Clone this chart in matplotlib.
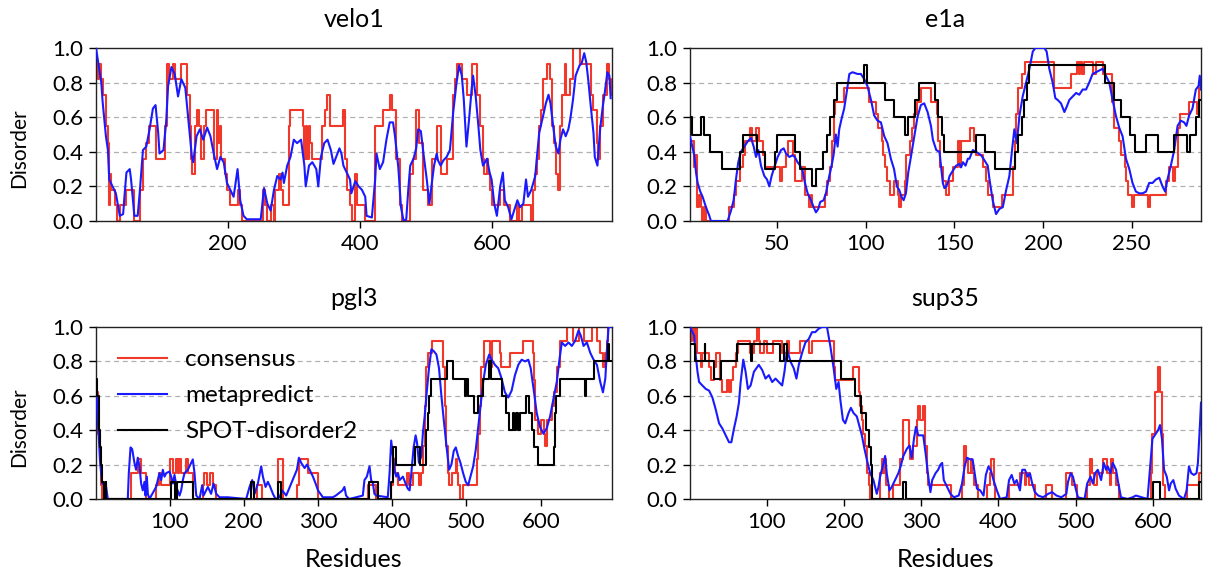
import matplotlib
matplotlib.use("Agg")
import matplotlib.pyplot as plt

plt.rcParams['font.family'] = ['Lato', 'DejaVu Sans']

# ---------------- data (residue, disorder) ----------------
velo1_consensus = [(1,0.91),(4,0.82),(6,0.91),(8,0.82),(11,0.73),(16,0.55),(19,0.45),(20,0.18),(21,0.09),(22,0.27),(24,0.18),(30,0.09),(32,0.0),(37,0.09),(47,0.18),(59,0.0),(67,0.18),(72,0.36),(77,0.45),(81,0.55),(92,0.36),(105,0.55),(109,0.91),(111,0.82),(118,0.91),(120,0.82),(129,0.91),(139,0.73),(143,0.55),(145,0.36),(146,0.27),(150,0.36),(151,0.55),(154,0.64),(156,0.55),(160,0.36),(164,0.55),(168,0.64),(180,0.36),(184,0.64),(186,0.45),(188,0.55),(190,0.36),(196,0.27),(199,0.18),(204,0.09),(215,0.18),(219,0.09),(222,0.0),(253,0.18),(257,0.09),(260,0.0),(265,0.09),(270,0.0),(272,0.18),(278,0.27),(281,0.18),(283,0.09),(293,0.55),(295,0.64),(314,0.55),(315,0.36),(318,0.55),(320,0.36),(323,0.55),(325,0.45),(328,0.36),(342,0.55),(347,0.64),(350,0.73),(354,0.55),(375,0.64),(377,0.36),(380,0.18),(385,0.09),(388,0.0),(392,0.27),(396,0.09),(407,0.0),(423,0.55),(435,0.64),(446,0.73),(448,0.64),(455,0.36),(460,0.09),(463,0.0),(475,0.27),(480,0.36),(485,0.64),(490,0.45),(496,0.18),(503,0.09),(509,0.36),(517,0.55),(522,0.27),(531,0.36),(541,0.73),(544,0.82),(547,0.91),(554,0.82),(562,0.73),(570,0.91),(577,0.73),(582,0.55),(586,0.36),(587,0.27),(592,0.36),(594,0.27),(597,0.18),(599,0.09),(612,0.18),(618,0.09),(627,0.0),(637,0.09),(640,0.0),(645,0.09),(659,0.0),(662,0.18),(665,0.27),(667,0.36),(671,0.55),(674,0.64),(677,0.82),(682,0.91),(688,0.82),(691,0.55),(694,0.45),(697,0.27),(700,0.18),(702,0.55),(705,0.73),(710,0.91),(712,0.73),(718,0.82),(722,1.0),(733,0.91),(750,0.73),(753,0.64),(758,0.45),(760,0.36),(763,0.55),(768,0.73),(773,0.91),(776,0.82),(779,0.73),(781,0.73)]

velo1_metapredict = [(1,1.0),(9,0.80),(11,0.69),(16,0.49),(19,0.41),(21,0.24),(26,0.20),(31,0.16),(37,0.03),(42,0.04),(44,0.14),(47,0.28),(52,0.30),(54,0.24),(59,0.03),(64,0.03),(67,0.16),(72,0.41),(77,0.43),(82,0.53),(87,0.65),(91,0.67),(95,0.51),(97,0.39),(103,0.41),(107,0.57),(110,0.78),(115,0.89),(120,0.85),(125,0.72),(130,0.82),(136,0.77),(141,0.57),(146,0.37),(148,0.34),(153,0.49),(158,0.53),(163,0.47),(169,0.54),(174,0.49),(179,0.39),(184,0.30),(189,0.37),(194,0.34),(199,0.22),(204,0.18),(209,0.14),(215,0.30),(219,0.12),(224,0.03),(229,0.01),(250,0.01),(255,0.19),(260,0.10),(265,0.06),(270,0.18),(275,0.26),(280,0.24),(283,0.28),(285,0.22),(290,0.32),(295,0.37),(300,0.47),(305,0.45),(311,0.47),(316,0.32),(318,0.20),(323,0.32),(328,0.34),(334,0.30),(337,0.20),(341,0.37),(346,0.45),(351,0.47),(356,0.41),(360,0.33),(366,0.39),(369,0.42),(372,0.39),(375,0.32),(380,0.28),(385,0.24),(387,0.16),(393,0.23),(398,0.20),(403,0.18),(408,0.14),(410,0.03),(418,0.02),(423,0.24),(425,0.39),(430,0.30),(435,0.34),(440,0.47),(445,0.57),(450,0.57),(453,0.49),(458,0.31),(462,0.08),(466,0.0),(470,0.01),(473,0.18),(476,0.32),(481,0.36),(485,0.42),(488,0.53),(492,0.52),(496,0.39),(501,0.24),(505,0.10),(508,0.20),(512,0.32),(516,0.39),(518,0.35),(522,0.32),(526,0.35),(531,0.37),(536,0.41),(541,0.63),(546,0.80),(550,0.90),(554,0.84),(557,0.70),(561,0.43),(565,0.59),(569,0.77),(571,0.84),(575,0.72),(579,0.55),(582,0.41),(586,0.32),(592,0.36),(596,0.28),(599,0.24),(603,0.10),(607,0.03),(612,0.20),(616,0.28),(619,0.12),(624,0.08),(629,0.01),(633,0.06),(638,0.12),(642,0.08),(647,0.10),(651,0.24),(654,0.14),(659,0.18),(665,0.26),(667,0.35),(671,0.51),(677,0.61),(681,0.68),(685,0.73),(688,0.68),(692,0.55),(696,0.43),(700,0.39),(703,0.47),(707,0.53),(711,0.49),(715,0.53),(718,0.59),(722,0.70),(726,0.84),(732,0.90),(735,0.91),(739,0.97),(742,0.92),(745,0.82),(749,0.66),(753,0.51),(755,0.37),(759,0.32),(763,0.53),(767,0.66),(770,0.74),(774,0.86),(777,0.84),(779,0.71)]

e1a_consensus = [(1,0.46),(3,0.31),(4,0.38),(5,0.08),(6,0.15),(7,0.08),(8,0.0),(9,0.08),(10,0.0),(23,0.08),(26,0.15),(27,0.23),(29,0.31),(31,0.38),(32,0.46),(35,0.54),(36,0.46),(38,0.54),(40,0.46),(42,0.38),(43,0.31),(52,0.23),(53,0.31),(55,0.38),(56,0.46),(59,0.38),(60,0.23),(64,0.31),(66,0.15),(68,0.08),(69,0.15),(70,0.08),(77,0.15),(78,0.23),(80,0.31),(81,0.46),(82,0.62),(83,0.69),(88,0.77),(102,0.69),(106,0.62),(107,0.54),(109,0.46),(110,0.38),(111,0.31),(112,0.23),(114,0.15),(116,0.23),(118,0.15),(119,0.08),(120,0.15),(122,0.23),(123,0.38),(125,0.46),(126,0.54),(127,0.62),(129,0.69),(131,0.77),(137,0.69),(140,0.62),(141,0.46),(142,0.31),(143.5,0.23),(145,0.15),(147,0.23),(149,0.31),(152,0.46),(153,0.31),(154,0.46),(159,0.54),(161,0.46),(162,0.38),(166,0.31),(168,0.23),(169,0.15),(172,0.08),(177,0.15),(183,0.31),(184,0.46),(185,0.62),(186,0.77),(188,0.85),(190,0.92),(206,0.77),(216,0.85),(219,0.92),(220,0.85),(221,0.92),(222,0.85),(223,0.92),(228,0.85),(230,0.92),(234,0.85),(239,0.69),(240,0.54),(243,0.46),(244,0.38),(246,0.31),(247,0.23),(248,0.15),(250,0.08),(251,0.15),(259,0.08),(260,0.15),(269,0.23),(271,0.31),(273,0.23),(274.5,0.31),(276,0.54),(277,0.62),(282,0.69),(287,0.62),(288,0.77),(289,0.77)]

e1a_metapredict = [(1,0.49),(3.4,0.38),(4.4,0.28),(5.3,0.22),(6.8,0.17),(8.1,0.14),(10,0.08),(11.9,0.03),(12.8,0.0),(22.2,0.0),(24.1,0.06),(25.6,0.12),(26.9,0.24),(28.2,0.34),(29.7,0.40),(31.6,0.43),(33.5,0.46),(35.4,0.48),(36.9,0.43),(38.2,0.37),(39.5,0.41),(41,0.32),(42.9,0.26),(44.4,0.24),(45.7,0.20),(47,0.26),(48.5,0.31),(50.4,0.37),(52.3,0.41),(53.8,0.42),(55.1,0.39),(57,0.37),(58.8,0.38),(60.1,0.37),(61.6,0.34),(63.1,0.32),(64.5,0.29),(65.8,0.22),(67.3,0.16),(69.2,0.12),(70.7,0.08),(72,0.05),(73.3,0.07),(74.4,0.11),(76.3,0.12),(77.6,0.16),(79.5,0.26),(80.8,0.32),(81.9,0.38),(83.2,0.50),(84.2,0.43),(85.1,0.53),(86.4,0.59),(87.9,0.65),(89.4,0.75),(90.8,0.85),(92.6,0.86),(95.4,0.85),(97.3,0.85),(99.2,0.82),(101,0.78),(103,0.70),(104.8,0.61),(106.7,0.58),(108.6,0.57),(110.5,0.49),(112.3,0.45),(114.2,0.36),(116,0.30),(117.6,0.20),(118.9,0.18),(120.2,0.14),(121.4,0.12),(122.7,0.16),(124,0.28),(125.5,0.37),(127.4,0.49),(129.2,0.60),(131.1,0.67),(133,0.68),(134.9,0.63),(136.8,0.55),(137.9,0.47),(139.8,0.41),(141.6,0.40),(143.5,0.22),(144.4,0.19),(145.4,0.20),(146.3,0.22),(147.3,0.26),(149.1,0.29),(151,0.32),(152.9,0.33),(153.8,0.31),(154.8,0.34),(156.3,0.32),(157.6,0.36),(158.5,0.36),(160.4,0.41),(162.3,0.40),(165.1,0.38),(167,0.35),(168.8,0.32),(169.8,0.24),(171.6,0.12),(173.5,0.04),(175.4,0.07),(177.3,0.08),(179.2,0.18),(181,0.26),(182.5,0.41),(183.8,0.53),(185.2,0.45),(186.7,0.61),(188.5,0.72),(190.4,0.80),(192.3,0.88),(194.2,0.98),(195.7,1.0),(200.7,1.0),(202,0.98),(203.5,0.88),(205.4,0.80),(206.9,0.71),(208.2,0.70),(210.1,0.68),(212,0.63),(213.3,0.66),(214.8,0.70),(216.7,0.72),(218.6,0.74),(220.4,0.73),(222.3,0.76),(224.2,0.76),(226,0.80),(227.9,0.85),(229.8,0.86),(231.7,0.87),(233.6,0.88),(235.4,0.84),(237.3,0.80),(239.2,0.70),(241,0.61),(242.9,0.54),(244.8,0.49),(246.7,0.36),(248.6,0.30),(250.4,0.22),(252.3,0.17),(254.2,0.16),(256.1,0.16),(258,0.17),(259.8,0.22),(261.7,0.22),(263.6,0.24),(265.5,0.25),(267.3,0.20),(268.8,0.17),(270.1,0.24),(272,0.32),(273.9,0.41),(275.8,0.55),(277.6,0.58),(279.5,0.57),(280.8,0.55),(282.3,0.61),(284.2,0.65),(286.1,0.76),(287.6,0.78),(288.3,0.84),(289,0.76)]

e1a_spot = [(1,0.6),(2,0.5),(7,0.6),(9,0.5),(12,0.4),(19,0.3),(29,0.4),(31,0.5),(39,0.4),(43,0.3),(49,0.4),(50,0.5),(60,0.4),(63,0.3),(70,0.2),(72,0.3),(76,0.4),(78,0.5),(80,0.6),(82,0.7),(84,0.8),(99,0.9),(101,0.8),(111,0.7),(116,0.6),(122,0.5),(124,0.6),(128,0.7),(130,0.8),(139,0.7),(141,0.6),(143,0.5),(144,0.4),(162,0.5),(167,0.4),(173,0.3),(184,0.4),(186,0.5),(188,0.6),(189,0.7),(191,0.8),(192,0.9),(235,0.8),(240,0.7),(244,0.6),(249,0.5),(252,0.4),(258,0.5),(265,0.4),(274,0.5),(281,0.4),(283,0.5),(286,0.6),(288,0.7),(289,0.7)]

pgl3_consensus = [(1,0.54),(2,0.62),(4,0.38),(6,0.23),(8,0.08),(9,0.0),(10,0.08),(12,0.0),(48,0.15),(57,0.23),(62,0.15),(68,0.0),(82,0.08),(86,0.15),(89,0.08),(100,0.23),(105,0.15),(109,0.23),(111,0.15),(113,0.23),(116,0.15),(122,0.23),(125,0.15),(132,0.0),(145,0.08),(147,0.15),(150,0.08),(154,0.15),(158,0.08),(163,0.0),(218,0.08),(225,0.0),(246,0.23),(253,0.0),(272,0.08),(275,0.23),(286,0.15),(293,0.15),(300,0.0),(367,0.08),(378,0.0),(399,0.08),(401,0.23),(404,0.15),(408,0.08),(420,0.15),(423,0.08),(428,0.15),(436,0.08),(439,0.15),(441,0.31),(444,0.54),(446,0.77),(448,0.85),(453,0.92),(468,0.77),(471,0.54),(473,0.31),(475,0.15),(477,0.08),(480,0.15),(486,0.23),(487,0.15),(489,0.08),(491,0.0),(495,0.08),(514,0.23),(516,0.38),(518,0.54),(520,0.77),(523,0.92),(532,0.77),(534,0.92),(545,0.85),(547,0.77),(559,0.85),(576,0.92),(589,0.85),(591,0.69),(592,0.46),(597,0.38),(601,0.46),(604,0.38),(606,0.31),(608,0.46),(615,0.54),(618,0.62),(622,0.77),(626,0.92),(636,1.0),(644,0.92),(651,1.0),(658,0.92),(669,1.0),(676,0.92),(680,0.85),(684,0.77),(686,0.85),(689,0.92),(691,1.0),(696,1.0)]

pgl3_metapredict = [(1,0.64),(2,0.58),(4.8,0.35),(6.6,0.21),(9.3,0.09),(12.5,0.09),(14.6,0.07),(16.9,0.0),(43.8,0.0),(45.2,0.15),(47.5,0.30),(49.7,0.29),(52.8,0.21),(55,0.17),(57.3,0.24),(59.6,0.19),(61.8,0.09),(64,0.05),(66.3,0.10),(67.7,0.02),(69.5,0.13),(70.8,0.03),(73,0.0),(82,0.07),(84.3,0.11),(86.5,0.15),(88.8,0.11),(91,0.17),(93.3,0.13),(95.5,0.15),(100,0.16),(102.2,0.13),(104.5,0.09),(106.7,0.14),(110,0.06),(113.5,0.02),(115.7,0.05),(118,0.11),(120.2,0.15),(124.7,0.17),(129.2,0.21),(131.4,0.23),(133.7,0.15),(136,0.02),(140.4,0.0),(144,0.08),(145.8,0.02),(149.4,0.05),(151.7,0.07),(156,0.03),(159.3,0.09),(163,0.03),(167.4,0.01),(178.6,0.01),(203.3,0.0),(207.8,0.07),(211.4,0.11),(214.6,0.03),(219,0.09),(223.5,0.19),(225.8,0.13),(229.4,0.07),(232.5,0.10),(235.7,0.07),(239.3,0.03),(242.9,0.0),(248.2,0.01),(251.8,0.05),(257.2,0.02),(271.6,0.17),(274.3,0.24),(277.4,0.21),(282,0.18),(285,0.20),(288.7,0.17),(293.2,0.13),(296.8,0.09),(300,0.05),(306.6,0.01),(320,0.01),(324,0.02),(333,0.05),(335.6,0.07),(337.8,0.02),(342,0.0),(360.4,0.02),(362.6,0.11),(365.8,0.13),(369.4,0.19),(371.6,0.11),(374,0.09),(376,0.03),(378.4,0.02),(394,0.01),(396.4,0.15),(398.6,0.34),(401,0.25),(403,0.17),(405.4,0.13),(407.7,0.15),(410,0.11),(414.4,0.13),(418,0.09),(421,0.06),(423.4,0.05),(425.7,0.15),(428.8,0.30),(431.5,0.37),(433.3,0.33),(436,0.21),(439.2,0.25),(441.4,0.39),(443.7,0.48),(446,0.60),(449.5,0.76),(452.7,0.87),(455.9,0.86),(459.5,0.84),(463,0.76),(466.2,0.60),(469.4,0.46),(473,0.31),(476.6,0.17),(479.7,0.20),(482.9,0.28),(485.6,0.30),(488.7,0.25),(491.9,0.21),(495.5,0.15),(499,0.10),(502.3,0.08),(505.4,0.13),(509,0.19),(512.6,0.29),(515.8,0.42),(518.9,0.54),(522.5,0.68),(526,0.78),(530.6,0.84),(533.8,0.81),(538.3,0.78),(542.8,0.76),(547.3,0.70),(551.8,0.62),(556.3,0.59),(560.8,0.63),(565.3,0.72),(569.8,0.78),(574.3,0.81),(578.8,0.80),(583.3,0.81),(586.5,0.76),(591,0.62),(594.6,0.50),(599,0.42),(603.6,0.38),(608,0.41),(612.6,0.48),(617,0.58),(621.6,0.68),(625.2,0.81),(628.4,0.91),(632.9,0.89),(637.4,0.91),(641.9,0.89),(646.4,0.92),(650.9,0.98),(654,0.95),(657.7,0.89),(662.2,0.91),(666.7,0.85),(671.2,0.81),(675.7,0.78),(680.2,0.68),(683.8,0.62),(687,0.70),(689.2,0.87),(691.4,1.0),(695,1.0)]

pgl3_spot = [(1,0.7),(3,0.6),(5,0.4),(7,0.3),(8,0.2),(9,0.1),(12,0.0),(14,0.1),(15,0.0),(102,0.1),(107,0.0),(110,0.1),(132,0.0),(210,0.1),(214,0.0),(246,0.1),(250,0.0),(369,0.1),(381,0.0),(399,0.1),(401,0.3),(405,0.2),(431,0.3),(437,0.2),(446,0.4),(448,0.5),(450,0.6),(452,0.7),(474,0.8),(482,0.7),(498,0.6),(500,0.7),(502,0.6),(510,0.5),(515,0.6),(522,0.7),(530,0.8),(533,0.7),(548,0.6),(553,0.5),(557,0.4),(562,0.5),(564,0.4),(567,0.5),(570,0.4),(572,0.5),(580,0.6),(584,0.5),(588,0.4),(591,0.3),(597,0.2),(618,0.3),(619,0.5),(621,0.6),(626,0.7),(660,0.6),(661,0.7),(672,0.8),(690,0.9),(692,0.8),(696,0.8)]

sup35_consensus = [(1,0.92),(4,1.0),(6,0.92),(8,1.0),(10,0.85),(15,0.77),(17,0.85),(26,0.77),(28,0.69),(32,0.77),(34,0.85),(40,0.69),(43,0.62),(49,0.69),(51,0.62),(54,0.69),(56,0.77),(60,0.85),(63,0.92),(79,0.85),(84,0.92),(88,1.0),(90,0.92),(92,0.85),(97,0.92),(101,0.85),(109,0.92),(120,0.85),(127,0.92),(129,0.85),(143,0.92),(155,0.85),(159,0.92),(187,0.77),(189,0.69),(212,0.77),(219,0.62),(221,0.54),(223,0.46),(225,0.38),(228,0.31),(230,0.15),(232,0.08),(234,0.0),(247,0.15),(249,0.23),(251,0.15),(253,0.23),(255,0.08),(258,0.0),(264,0.08),(272,0.23),(276,0.46),(284,0.31),(286,0.23),(290,0.31),(294,0.46),(296,0.54),(299,0.46),(302,0.54),(305,0.31),(307,0.15),(309,0.08),(339,0.0),(353,0.08),(355,0.15),(356,0.31),(358,0.23),(361,0.15),(364,0.23),(366,0.15),(368,0.08),(374,0.0),(385,0.08),(389,0.15),(391,0.23),(394,0.08),(396,0.0),(413,0.08),(428,0.15),(434,0.08),(436,0.15),(439,0.08),(447,0.0),(462,0.08),(469,0.0),(488,0.15),(495,0.08),(501,0.0),(515,0.08),(518,0.23),(521,0.15),(524,0.08),(528,0.15),(535,0.23),(540,0.15),(544,0.08),(546,0.23),(548,0.15),(552,0.08),(556,0.0),(597,0.15),(599,0.38),(603,0.62),(606,0.69),(607,0.77),(609,0.62),(611,0.38),(613,0.08),(616,0.0),(644,0.08),(659,0.15),(662,0.15)]

sup35_metapredict = [(1,1.0),(6.4,0.95),(8.5,0.83),(10.7,0.74),(12.8,0.68),(17,0.66),(21.4,0.64),(25.7,0.63),(30,0.59),(34.3,0.52),(38.6,0.44),(42.9,0.41),(47.2,0.37),(51.5,0.33),(54.5,0.33),(57.9,0.41),(61.3,0.48),(64.3,0.56),(66.5,0.68),(69.9,0.81),(72.9,0.74),(75.9,0.64),(79.4,0.66),(83.7,0.74),(90,0.78),(94.4,0.75),(98.7,0.70),(103,0.72),(107.3,0.68),(111.6,0.70),(115.9,0.68),(120.2,0.66),(123.2,0.74),(126.6,0.87),(130.9,0.80),(135.2,0.76),(138.7,0.70),(141.7,0.78),(146,0.85),(150.3,0.91),(154.6,0.93),(158.8,0.97),(163.1,0.97),(167.4,0.99),(171.7,1.0),(178.2,1.0),(182.5,0.89),(186.8,0.76),(190.2,0.64),(193.2,0.68),(195.4,0.58),(198.8,0.46),(201.8,0.44),(206.1,0.50),(209.1,0.53),(212.5,0.50),(216.8,0.48),(220.3,0.42),(223.3,0.37),(226.3,0.30),(229.7,0.23),(234,0.15),(238.3,0.11),(242.6,0.03),(244.8,0.07),(246.9,0.13),(250.3,0.19),(253.4,0.25),(255.5,0.15),(259,0.05),(262,0.07),(266.2,0.11),(270.5,0.15),(273.5,0.19),(277,0.25),(281.3,0.29),(284.7,0.31),(287.7,0.24),(290.7,0.35),(293.3,0.42),(296.3,0.37),(302.7,0.37),(306.2,0.25),(309.2,0.13),(312,0.04),(314.3,0.11),(318.6,0.15),(322,0.17),(325,0.20),(327.2,0.21),(329.3,0.11),(333.6,0.07),(337.9,0.03),(342.2,0.01),(348.6,0.02),(352.9,0.09),(356.3,0.19),(359.3,0.24),(363.6,0.23),(366.6,0.23),(369.2,0.15),(372.2,0.06),(376.4,0.05),(380.7,0.02),(383.7,0.14),(387.1,0.19),(390.6,0.16),(393.6,0.11),(397.9,0.05),(402.1,0.0),(410.7,0.01),(413.7,0.11),(417.1,0.14),(420.6,0.09),(423.6,0.11),(427.8,0.05),(430.8,0.17),(434.3,0.17),(437.7,0.13),(440.7,0.15),(443.7,0.09),(447.1,0.04),(451.4,0.02),(457.8,0.01),(464.3,0.03),(469.4,0.04),(475,0.02),(481.4,0.01),(487.8,0.03),(490,0.10),(493.4,0.15),(496.4,0.13),(499.4,0.07),(502.8,0.01),(511.4,0.0),(514.8,0.09),(519.1,0.13),(522.1,0.09),(525.1,0.15),(528.5,0.17),(532.8,0.11),(536.2,0.21),(539.2,0.17),(541.4,0.19),(544.8,0.15),(547.8,0.21),(552.1,0.17),(555.1,0.09),(558.5,0.01),(567,0.0),(573.5,0.01),(577.8,0.02),(592.8,0.0),(596.2,0.19),(599.2,0.35),(603.5,0.38),(606.5,0.40),(609,0.43),(611.5,0.35),(614.2,0.17),(617.7,0.13),(620.7,0.05),(622.8,0.09),(626.2,0.11),(629.2,0.06),(633.5,0.02),(640,0.0),(643.4,0.05),(646.4,0.19),(649.4,0.15),(652.8,0.14),(656.2,0.15),(658,0.21),(660.5,0.42),(662,0.56)]

sup35_spot = [(1,0.9),(7,0.8),(20,0.9),(21,0.8),(32,0.7),(41,0.8),(62,0.9),(80,0.8),(81,0.9),(117,0.8),(122,0.9),(127,0.8),(196,0.7),(214,0.6),(222,0.5),(229,0.4),(233,0.3),(235,0.2),(236,0.1),(237,0.0),(276,0.1),(281,0.0),(600,0.1),(609,0.0),(659,0.1),(662,0.1)]

titles = ["velo1", "e1a", "pgl3", "sup35"]
lengths = [781, 289, 696, 662]
xticks = [[200, 400, 600], [50, 100, 150, 200, 250],
          [100, 200, 300, 400, 500, 600], [100, 200, 300, 400, 500, 600]]
yticks = [0.0, 0.2, 0.4, 0.6, 0.8, 1.0]
series_names = ["consensus", "metapredict", "SPOT-disorder2"]

panels = [
    (velo1_consensus, velo1_metapredict, None),
    (e1a_consensus, e1a_metapredict, e1a_spot),
    (pgl3_consensus, pgl3_metapredict, pgl3_spot),
    (sup35_consensus, sup35_metapredict, sup35_spot),
]

RED = '#f0392b'
BLUE = '#1a1aff'
BLACK = '#000000'

W, H = 1205, 573
fig = plt.figure(figsize=(W / 100, H / 100), dpi=100)

boxes = [(96, 48, 612, 221), (690, 48, 1201, 221),
         (96, 327, 612, 499), (690, 327, 1201, 499)]

for i, (cons, meta, spot) in enumerate(panels):
    l, t, r, b = boxes[i]
    ax = fig.add_axes([l / W, 1 - b / H, (r - l) / W, (b - t) / H])
    for yy in [0.2, 0.4, 0.6, 0.8]:
        ax.axhline(yy, color='#b0b0b0', lw=0.9, ls=(0, (4, 3)), zorder=0)
    cx, cy = zip(*cons)
    ax.plot(cx, cy, color=RED, lw=1.5, drawstyle='steps-post', label=series_names[0], zorder=2)
    mx, my = zip(*meta)
    ax.plot(mx, my, color=BLUE, lw=1.5, label=series_names[1], zorder=3)
    if spot is not None:
        sx, sy = zip(*spot)
        ax.plot(sx, sy, color=BLACK, lw=1.5, drawstyle='steps-post', label=series_names[2], zorder=4)
    ax.set_xlim(1, lengths[i])
    ax.set_ylim(0, 1)
    ax.set_xticks(xticks[i])
    ax.set_yticks(yticks)
    ax.set_yticklabels([f"{v:.1f}" for v in yticks])
    ax.tick_params(labelsize=16, length=5, width=1, pad=4)
    for sp in ax.spines.values():
        sp.set_linewidth(1.0)
        sp.set_color('#222222')
    ax.set_title(titles[i], fontsize=18, pad=15)
    if i % 2 == 0:
        ax.set_ylabel("Disorder", fontsize=15)
        ax.yaxis.set_label_coords(-0.13, 0.42)
    if i >= 2:
        ax.set_xlabel("Residues", fontsize=18, labelpad=12)
    if i == 2:
        ax.legend(loc='upper left', frameon=False, fontsize=17.5, handlelength=2.0,
                  labelspacing=0.62, handletextpad=0.75, borderaxespad=0.3,
                  bbox_to_anchor=(0.01, 0.97))

fig.savefig("out.png", dpi=100)
